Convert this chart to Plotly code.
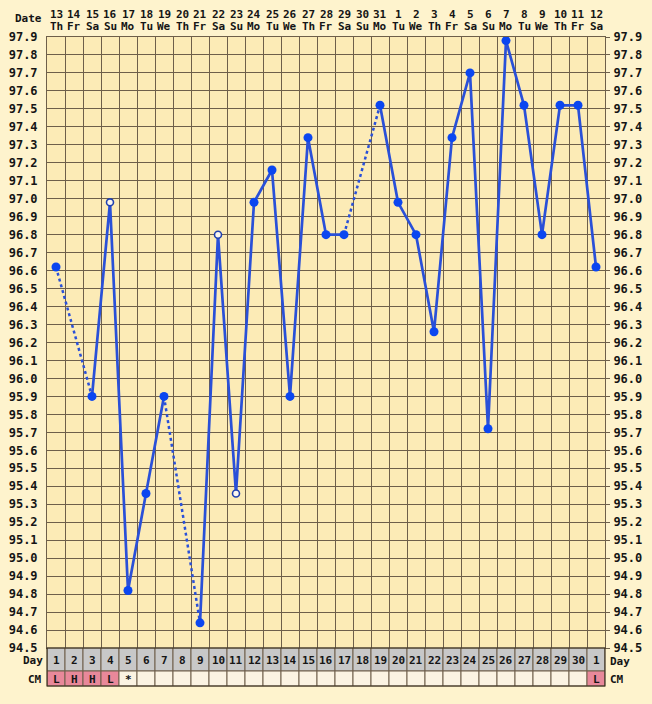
import plotly.graph_objects as go

# ---------------- data ----------------
dates = [13, 14, 15, 16, 17, 18, 19, 20, 21, 22, 23, 24, 25, 26, 27, 28, 29, 30, 31,
         1, 2, 3, 4, 5, 6, 7, 8, 9, 10, 11, 12]
weekdays = ["Th", "Fr", "Sa", "Su", "Mo", "Tu", "We", "Th", "Fr", "Sa", "Su", "Mo", "Tu", "We",
            "Th", "Fr", "Sa", "Su", "Mo", "Tu", "We", "Th", "Fr", "Sa", "Su", "Mo", "Tu", "We",
            "Th", "Fr", "Sa"]
cycle_days = [1, 2, 3, 4, 5, 6, 7, 8, 9, 10, 11, 12, 13, 14, 15, 16, 17, 18, 19, 20,
              21, 22, 23, 24, 25, 26, 27, 28, 29, 30, 1]
temps = [96.62, None, 95.9, 96.98, 94.82, 95.36, 95.9, None, 94.64, 96.8, 95.36, 96.98,
         97.16, 95.9, 97.34, 96.8, 96.8, None, 97.52, 96.98, 96.8, 96.26, 97.34, 97.7,
         95.72, 97.88, 97.52, 96.8, 97.52, 97.52, 96.62]
open_marker = [False, False, False, True, False, False, False, False, False, True, True, False,
               False, False, False, False, False, False, False, False, False, False, False, False,
               False, False, False, False, False, False, False]
cm = ["L", "H", "H", "L", "*", "", "", "", "", "", "", "", "", "", "", "", "", "", "", "",
      "", "", "", "", "", "", "", "", "", "", "L"]
y_ticks = [94.5, 94.6, 94.7, 94.8, 94.9, 95.0, 95.1, 95.2, 95.3, 95.4, 95.5, 95.6, 95.7,
           95.8, 95.9, 96.0, 96.1, 96.2, 96.3, 96.4, 96.5, 96.6, 96.7, 96.8, 96.9, 97.0,
           97.1, 97.2, 97.3, 97.4, 97.5, 97.6, 97.7, 97.8, 97.9]

# ---------------- style ----------------
W, H = 652, 704
X0, X1 = 47, 605
Y_TOP, Y_BOT = 37, 648
DAY_BOT, CM_BOT = 671, 686
PAPER_BG = "#fef3cd"
PLOT_BG = "#fcebb6"
GRID = "#6e5f4a"
LINE = "#2a50d8"
DOT = "#0b46f0"
TXT = "#151515"
FONT = "DejaVu Sans Mono"


def py(p):
    return 1 - p / H


def px(p):
    return p / W


n = len(temps)
xs = list(range(1, n + 1))

fig = go.Figure()

# dotted connectors across missing days
dx, dy = [], []
valid = [i for i, t in enumerate(temps) if t is not None]
for a, b in zip(valid[:-1], valid[1:]):
    if b - a > 1:
        dx += [xs[a], xs[b], None]
        dy += [temps[a], temps[b], None]
fig.add_trace(go.Scatter(x=dx, y=dy, mode="lines",
                         line=dict(color=LINE, width=2.5, dash="3px,3px"),
                         hoverinfo="skip", showlegend=False))

# solid line
fig.add_trace(go.Scatter(x=xs, y=temps, mode="lines", connectgaps=False,
                         line=dict(color=LINE, width=2.7),
                         hoverinfo="skip", showlegend=False))

# filled markers
fx = [x for x, t, o in zip(xs, temps, open_marker) if t is not None and not o]
fy = [t for t, o in zip(temps, open_marker) if t is not None and not o]
fig.add_trace(go.Scatter(x=fx, y=fy, mode="markers",
                         marker=dict(color=DOT, size=9, line=dict(width=0)),
                         showlegend=False))
# open markers
ox = [x for x, t, o in zip(xs, temps, open_marker) if t is not None and o]
oy = [t for t, o in zip(temps, open_marker) if t is not None and o]
fig.add_trace(go.Scatter(x=ox, y=oy, mode="markers",
                         marker=dict(color="#fbf6ee", size=7, line=dict(width=1.6, color="#2040b0")),
                         showlegend=False))

# invisible trace on right axis
fig.add_trace(go.Scatter(x=[1], y=[96.0], yaxis="y2", mode="markers",
                         marker=dict(opacity=0), hoverinfo="skip", showlegend=False))

shapes = []
annotations = []
cell_font = dict(family=FONT, size=11, color=TXT, weight="bold")

# Day row and CM row cells
for i, x in enumerate(xs):
    shapes.append(dict(type="rect", xref="x", yref="paper", x0=x - 0.5, x1=x + 0.5,
                       y0=py(DAY_BOT), y1=py(Y_BOT), fillcolor="#c8c8c8",
                       line=dict(color=GRID, width=1), layer="above"))
    fill = "#e8889a" if cm[i] in ("L", "H") else "#fbf3e2"
    shapes.append(dict(type="rect", xref="x", yref="paper", x0=x - 0.5, x1=x + 0.5,
                       y0=py(CM_BOT), y1=py(DAY_BOT), fillcolor=fill,
                       line=dict(color=GRID, width=1), layer="above"))
    annotations.append(dict(x=x, y=py(660), xref="x", yref="paper", text=str(cycle_days[i]),
                            showarrow=False, yanchor="middle", font=cell_font))
    if cm[i]:
        annotations.append(dict(x=x, y=py(679), xref="x", yref="paper", text=cm[i],
                                showarrow=False, yanchor="middle", font=cell_font))
    annotations.append(dict(x=x, y=py(14), xref="x", yref="paper", text=str(dates[i]),
                            showarrow=False, yanchor="middle", font=cell_font))
    annotations.append(dict(x=x, y=py(26), xref="x", yref="paper", text=weekdays[i],
                            showarrow=False, yanchor="middle", font=cell_font))

# outer border of bottom rows
shapes.append(dict(type="rect", xref="paper", yref="paper", x0=px(X0), x1=px(X1),
                   y0=py(CM_BOT), y1=py(Y_BOT), line=dict(color="#3a3020", width=1.2), layer="above"))

lab = dict(family=FONT, size=11, color=TXT, weight="bold")
annotations += [
    dict(x=px(44), y=py(19), xref="paper", yref="paper", text="Date", showarrow=False,
         xanchor="right", yanchor="middle", font=lab),
    dict(x=px(45), y=py(660), xref="paper", yref="paper", text="Day", showarrow=False,
         xanchor="right", yanchor="middle", font=lab),
    dict(x=px(44), y=py(679), xref="paper", yref="paper", text="CM", showarrow=False,
         xanchor="right", yanchor="middle", font=lab),
    dict(x=px(608), y=py(661), xref="paper", yref="paper", text="Day", showarrow=False,
         xanchor="left", yanchor="middle", font=lab),
    dict(x=px(608), y=py(679), xref="paper", yref="paper", text="CM", showarrow=False,
         xanchor="left", yanchor="middle", font=lab),
]

tick_text = [f"{v:.1f}" for v in y_ticks]
yax = dict(range=[y_ticks[0], y_ticks[-1]], domain=[py(Y_BOT), py(Y_TOP)],
           tickmode="array", tickvals=y_ticks, ticktext=tick_text,
           showgrid=True, gridcolor=GRID, gridwidth=1, zeroline=False,
           tickfont=dict(family=FONT, size=12, color=TXT, weight="bold"),
           showline=True, linecolor=GRID, linewidth=1, fixedrange=True, automargin=False)

fig.update_layout(
    width=W, height=H,
    margin=dict(l=0, r=0, t=0, b=0, autoexpand=False),
    paper_bgcolor=PAPER_BG, plot_bgcolor=PLOT_BG,
    showlegend=False,
    xaxis=dict(range=[0.5, n + 0.5], domain=[px(X0), px(X1)],
               tickmode="array", tickvals=[x - 0.5 for x in xs] + [n + 0.5],
               showticklabels=False, ticks="", showgrid=True, gridcolor=GRID, gridwidth=1,
               zeroline=False, showline=True, linecolor=GRID, linewidth=1, mirror=True,
               fixedrange=True, automargin=False),
    yaxis=dict(**yax, side="left", ticks="", ticklabelstandoff=6),
    yaxis2=dict(**{k: v for k, v in yax.items() if k != "showgrid"}, showgrid=False,
                overlaying="y", side="right", ticks="outside", ticklen=4, tickcolor=GRID,
                ticklabelstandoff=1),
    shapes=shapes,
    annotations=annotations,
)

fig.write_html("out.html", config={"displayModeBar": False},
               post_script="document.body.style.margin='0';document.body.style.overflow='hidden';")
